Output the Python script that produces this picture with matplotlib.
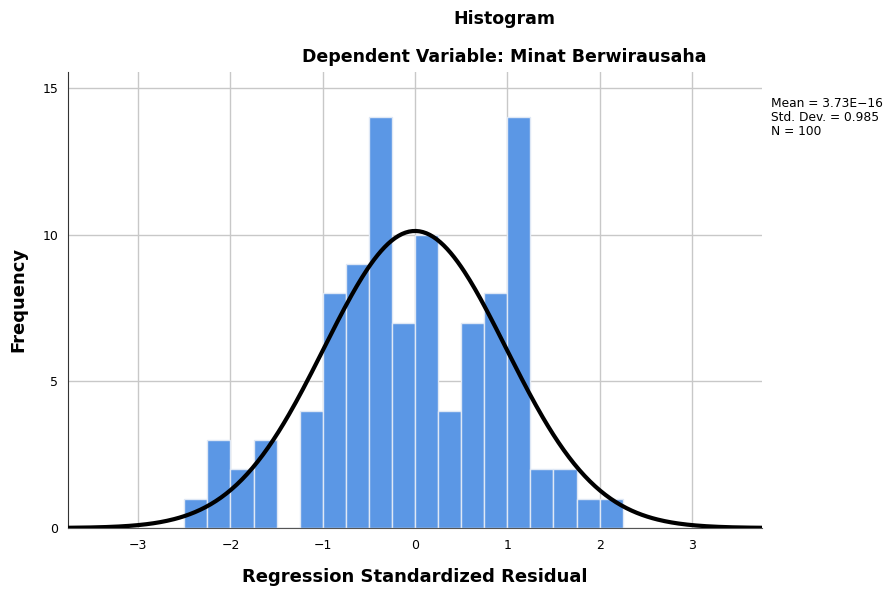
import numpy as np
import matplotlib
matplotlib.use("Agg")
import matplotlib.pyplot as plt

# bin edges (width 0.25) and counts
bin_left = [-2.5, -2.25, -2.0, -1.75, -1.5, -1.25, -1.0, -0.75, -0.5, -0.25,
            0.0, 0.25, 0.5, 0.75, 1.0, 1.25, 1.5, 1.75, 2.0]
counts = [1, 3, 2, 3, 0, 4, 8, 9, 14, 7, 10, 4, 7, 8, 14, 2, 2, 1, 1]
bin_width = 0.25
mean = 3.73e-16
std = 0.985
n = 100

plt.rcParams['font.family'] = ['DejaVu Sans']

fig = plt.figure(figsize=(8.87, 5.89), dpi=100)
ax = fig.add_axes([0.0767, 0.1036, 0.7824, 0.7744])

ax.bar(bin_left, counts, width=bin_width, align='edge', color='#5b97e5',
       edgecolor='#dfe8f5', linewidth=1, zorder=2)

# normal curve scaled to the histogram
xs = np.linspace(-3.76, 3.76, 400)
ys = n * bin_width / (std * np.sqrt(2 * np.pi)) * np.exp(-0.5 * ((xs - mean) / std) ** 2)
ax.plot(xs, ys, color='black', lw=3, zorder=3, solid_capstyle='butt')

ax.set_xlim(-3.76, 3.76)
ax.set_ylim(0, 15.55)
ax.set_xticks([-3, -2, -1, 0, 1, 2, 3])
ax.set_xticklabels(['\u22123', '\u22122', '\u22121', '0', '1', '2', '3'])
ax.set_yticks([0, 5, 10, 15])
ax.tick_params(axis='x', length=0, labelsize=9, pad=8)
ax.tick_params(axis='y', length=0, labelsize=9, pad=7)
ax.grid(True, color='#c8c8c8', lw=1, zorder=0)
ax.set_axisbelow(True)
for s in ['top', 'right']:
    ax.spines[s].set_visible(False)
ax.spines['left'].set_color('#333333')
ax.spines['bottom'].set_color('#555555')

ax.set_xlabel('Regression Standardized Residual', fontsize=13, fontweight='bold')
ax.xaxis.set_label_coords(0.5, -0.087)
ax.set_ylabel('Frequency', fontsize=13, fontweight='bold', va='center')
ax.yaxis.set_label_coords(-0.072, 0.5)

fig.text(0.569, 0.967, 'Histogram', ha='center', va='center', fontsize=12.5, fontweight='bold')
fig.text(0.569, 0.903, 'Dependent Variable: Minat Berwirausaha', ha='center', va='center',
         fontsize=12.5, fontweight='bold')
fig.text(0.869, 0.835, 'Mean = 3.73E\u221216\nStd. Dev. = 0.985\nN = 100',
         ha='left', va='top', fontsize=8.8, linespacing=1.1)

fig.savefig('out.png', dpi=100)
